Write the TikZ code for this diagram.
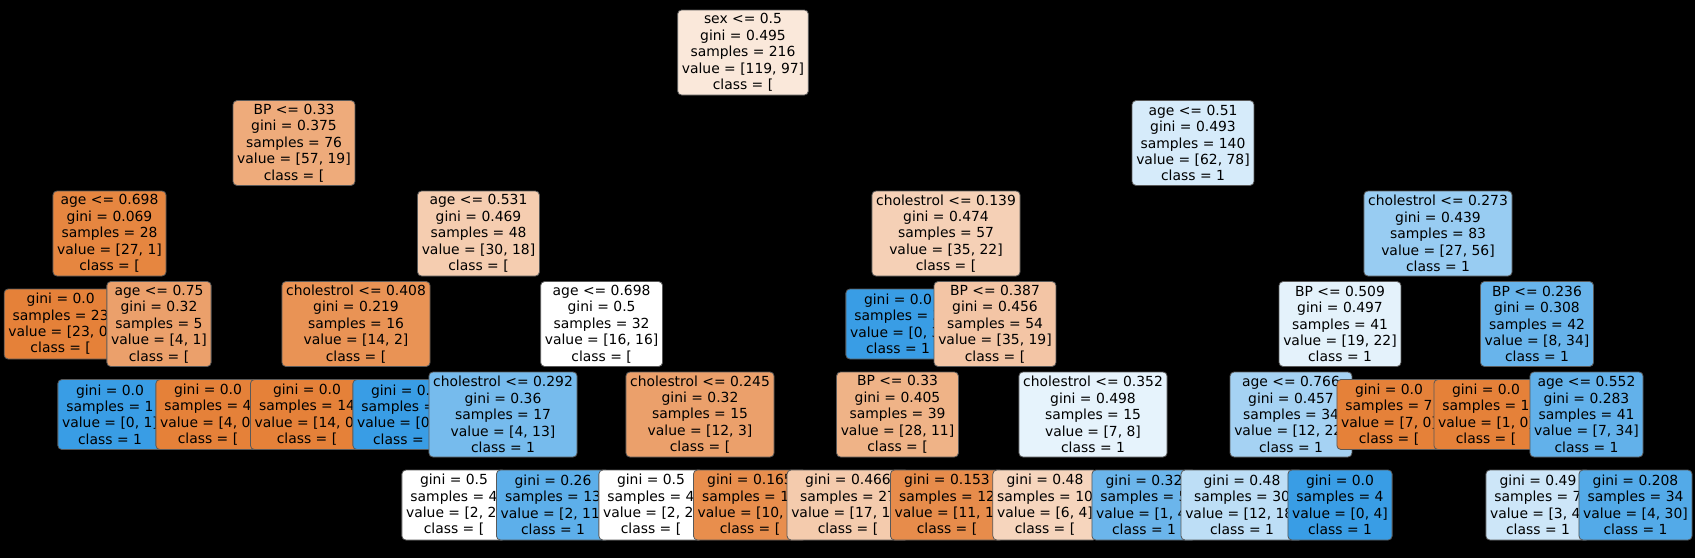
\documentclass[tikz,border=0pt]{standalone}
\usepackage{fontspec}
\setmainfont{DejaVu Sans}
\definecolor{clsA}{RGB}{229,129,57}
\definecolor{clsB}{RGB}{57,157,229}
\begin{document}
\begin{tikzpicture}[x=1pt,y=-1pt,
    split/.style={draw=black!65, line width=0.8pt, rounded corners=4pt, align=center,
        font=\fontsize{13.9}{16.4}\selectfont, inner xsep=4.2pt, inner ysep=0pt, minimum height=85pt},
    leafbox/.style={split, minimum height=70pt}]
    \fill[black] (0,0) rectangle (1695,558);
    \useasboundingbox (0,0) rectangle (1695,558);
    % level 0 and 1
    \node[split, fill=clsA!18.5!white] (n0) at (743,52.5) {sex <= 0.5\\gini = 0.495\\samples = 216\\value = [119, 97]\\class = [};
    \node[split, fill=clsA!66.7!white] (n1) at (294,143) {BP <= 0.33\\gini = 0.375\\samples = 76\\value = [57, 19]\\class = [};
    \node[split, fill=clsA!96.3!white] (n2) at (109.5,233.5) {age <= 0.698\\gini = 0.069\\samples = 28\\value = [27, 1]\\class = [};
    \node[leafbox, fill=clsA] (n3) at (60.7,324) {gini = 0.0\\samples = 23\\value = [23, 0]\\class = [};
    \node[split, fill=clsA!75!white] (n4) at (159,324) {age <= 0.75\\gini = 0.32\\samples = 5\\value = [4, 1]\\class = [};
    \node[leafbox, fill=clsB] (n5) at (110,414.5) {gini = 0.0\\samples = 1\\value = [0, 1]\\class = 1};
    \node[leafbox, fill=clsA] (n6) at (208,414.5) {gini = 0.0\\samples = 4\\value = [4, 0]\\class = [};
    \node[split, fill=clsA!40!white] (n7) at (478.5,233.5) {age <= 0.531\\gini = 0.469\\samples = 48\\value = [30, 18]\\class = [};
    \node[split, fill=clsA!85.7!white] (n8) at (356,324) {cholestrol <= 0.408\\gini = 0.219\\samples = 16\\value = [14, 2]\\class = [};
    \node[leafbox, fill=clsA] (n9) at (307,414.5) {gini = 0.0\\samples = 14\\value = [14, 0]\\class = [};
    \node[leafbox, fill=clsB] (n10) at (405,414.5) {gini = 0.0\\samples = 2\\value = [0, 2]\\class = 1};
    \node[split, fill=white] (n11) at (601.6,324) {age <= 0.698\\gini = 0.5\\samples = 32\\value = [16, 16]\\class = [};
    \node[split, fill=clsB!69.2!white] (n12) at (503,414.5) {cholestrol <= 0.292\\gini = 0.36\\samples = 17\\value = [4, 13]\\class = 1};
    \node[leafbox, fill=white] (n13) at (454,505) {gini = 0.5\\samples = 4\\value = [2, 2]\\class = [};
    \node[leafbox, fill=clsB!81.8!white] (n14) at (553,505) {gini = 0.26\\samples = 13\\value = [2, 11]\\class = 1};
    \node[split, fill=clsA!75!white] (n15) at (700,414.5) {cholestrol <= 0.245\\gini = 0.32\\samples = 15\\value = [12, 3]\\class = [};
    \node[leafbox, fill=white] (n16) at (651,505) {gini = 0.5\\samples = 4\\value = [2, 2]\\class = [};
    \node[leafbox, fill=clsA!90!white] (n17) at (750,505) {gini = 0.165\\samples = 11\\value = [10, 1]\\class = [};
    % right subtree
    \node[split, fill=clsB!20.5!white] (n18) at (1193,143) {age <= 0.51\\gini = 0.493\\samples = 140\\value = [62, 78]\\class = 1};
    \node[split, fill=clsA!37.1!white] (n19) at (946,233.5) {cholestrol <= 0.139\\gini = 0.474\\samples = 57\\value = [35, 22]\\class = [};
    \node[leafbox, fill=clsB] (n20) at (898,324) {gini = 0.0\\samples = 3\\value = [0, 3]\\class = 1};
    \node[split, fill=clsA!45.7!white] (n21) at (995,324) {BP <= 0.387\\gini = 0.456\\samples = 54\\value = [35, 19]\\class = [};
    \node[split, fill=clsA!60.7!white] (n22) at (897.5,414.5) {BP <= 0.33\\gini = 0.405\\samples = 39\\value = [28, 11]\\class = [};
    \node[leafbox, fill=clsA!41.2!white] (n23) at (848,505) {gini = 0.466\\samples = 27\\value = [17, 10]\\class = [};
    \node[leafbox, fill=clsA!90.9!white] (n24) at (947,505) {gini = 0.153\\samples = 12\\value = [11, 1]\\class = [};
    \node[split, fill=clsB!12.5!white] (n25) at (1093,414.5) {cholestrol <= 0.352\\gini = 0.498\\samples = 15\\value = [7, 8]\\class = 1};
    \node[leafbox, fill=clsA!33.3!white] (n26) at (1045,505) {gini = 0.48\\samples = 10\\value = [6, 4]\\class = [};
    \node[leafbox, fill=clsB!75!white] (n27) at (1144,505) {gini = 0.32\\samples = 5\\value = [1, 4]\\class = 1};
    \node[split, fill=clsB!51.8!white] (n28) at (1438,233.5) {cholestrol <= 0.273\\gini = 0.439\\samples = 83\\value = [27, 56]\\class = 1};
    \node[split, fill=clsB!13.6!white] (n29) at (1340,324) {BP <= 0.509\\gini = 0.497\\samples = 41\\value = [19, 22]\\class = 1};
    \node[split, fill=clsB!45.5!white] (n30) at (1291,414.5) {age <= 0.766\\gini = 0.457\\samples = 34\\value = [12, 22]\\class = 1};
    \node[leafbox, fill=clsB!33.3!white] (n31) at (1242,505) {gini = 0.48\\samples = 30\\value = [12, 18]\\class = 1};
    \node[leafbox, fill=clsB] (n32) at (1340,505) {gini = 0.0\\samples = 4\\value = [0, 4]\\class = 1};
    \node[leafbox, fill=clsA] (n33) at (1389,414.5) {gini = 0.0\\samples = 7\\value = [7, 0]\\class = [};
    \node[split, fill=clsB!76.5!white] (n34) at (1537,324) {BP <= 0.236\\gini = 0.308\\samples = 42\\value = [8, 34]\\class = 1};
    \node[leafbox, fill=clsA] (n35) at (1486,414.5) {gini = 0.0\\samples = 1\\value = [1, 0]\\class = [};
    \node[split, fill=clsB!79.4!white] (n36) at (1586.5,414.5) {age <= 0.552\\gini = 0.283\\samples = 41\\value = [7, 34]\\class = 1};
    \node[leafbox, fill=clsB!25!white] (n37) at (1538,505) {gini = 0.49\\samples = 7\\value = [3, 4]\\class = 1};
    \node[leafbox, fill=clsB!86.7!white] (n38) at (1635.5,505) {gini = 0.208\\samples = 34\\value = [4, 30]\\class = 1};
\end{tikzpicture}
\end{document}
